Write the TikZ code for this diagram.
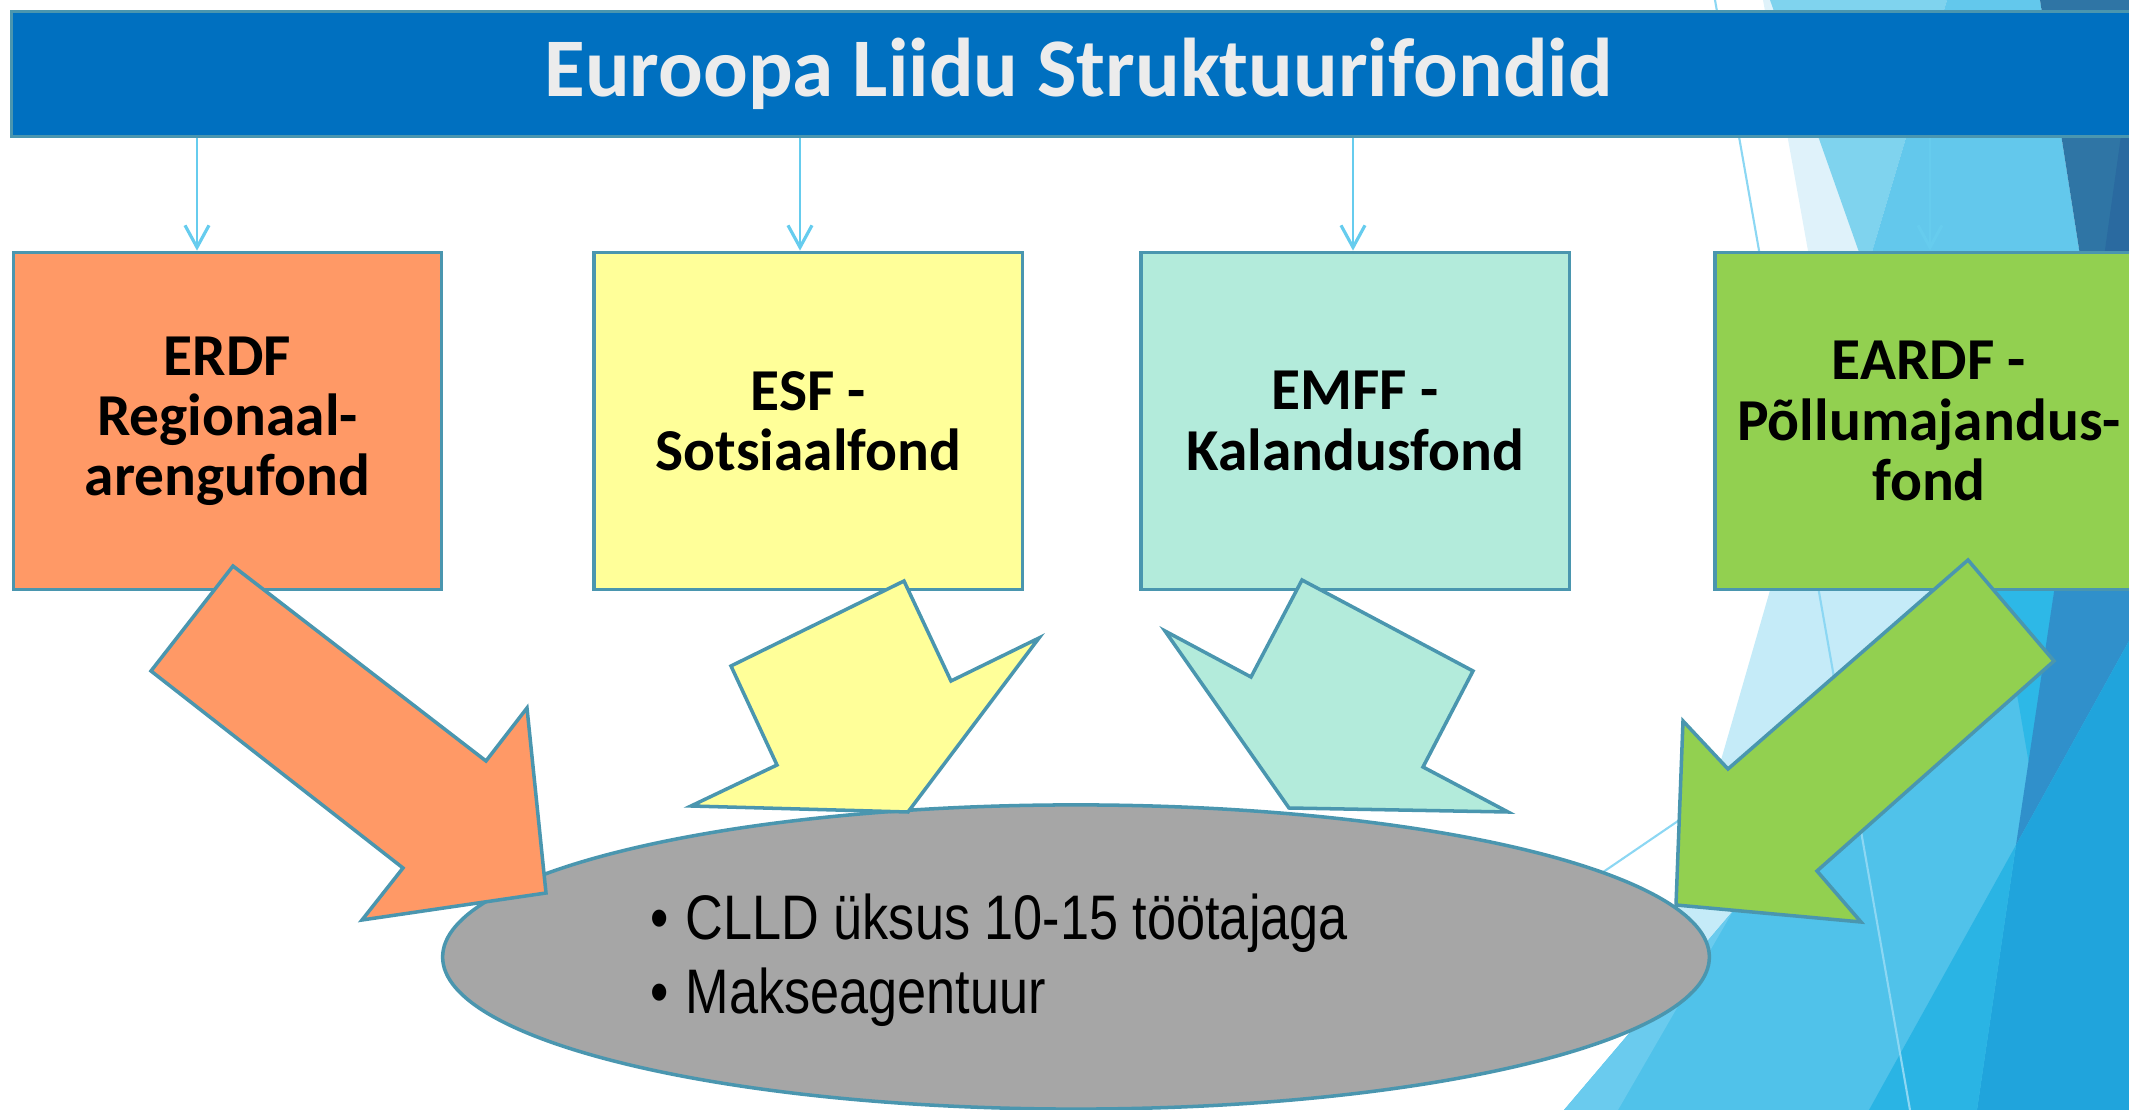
\documentclass[tikz,border=0pt]{standalone}
\usepackage{fontspec}
\setmainfont{Carlito}
\newfontfamily\narrowfont{Liberation Sans}[FakeStretch=0.83]
\usepackage{tikz}
\usetikzlibrary{shapes.geometric,arrows.meta}
\usetikzlibrary{positioning}
\definecolor{titleblue}{RGB}{0,112,192}
\definecolor{edgeblue}{RGB}{74,150,175}
\definecolor{linkblue}{RGB}{102,204,238}
\definecolor{titlegray}{RGB}{236,236,236}
\definecolor{myorange}{RGB}{255,153,102}
\definecolor{myyellow}{RGB}{255,255,153}
\definecolor{myteal}{RGB}{179,235,219}
\definecolor{mygreen}{RGB}{146,208,80}
\definecolor{mygray}{RGB}{166,166,166}
% facets of the slide background
\definecolor{facetA}{RGB}{223,242,250}
\definecolor{facetB}{RGB}{197,235,248}
\definecolor{facetC}{RGB}{127,211,238}
\definecolor{facetD}{RGB}{99,200,236}
\definecolor{facetE}{RGB}{47,117,165}
\definecolor{facetF}{RGB}{42,106,160}
\definecolor{facetG}{RGB}{80,194,234}
\definecolor{facetH}{RGB}{106,203,238}
\definecolor{facetI}{RGB}{48,144,203}
\definecolor{facetJ}{RGB}{32,164,220}
\definecolor{facetK}{RGB}{42,180,228}
\definecolor{facetL}{RGB}{45,184,231}
\definecolor{facetM}{RGB}{140,215,243}
\newcommand\poolitem[1]{\makebox[0.35cm][l]{•}#1}
\newcommand\fundbox[4][]{%
  \node[fundbox,#1,fill=#2] (#3) {#4}; 
}

\begin{document}
\begin{tikzpicture}[
x=0.01cm, y=-0.01cm,
fundbox/.style={
  rectangle,
  draw=edgeblue,
  line width=1pt,
  minimum width=4.28cm,
  minimum height=3.37cm,
  inner sep=0pt,
  align=center,
  font=\fontsize{16.9}{17.1}\selectfont\bfseries},
titlebar/.style={
  rectangle,
  draw=edgeblue,
  line width=1pt,
  fill=titleblue,
  text=titlegray,
  minimum width=21.33cm,
  minimum height=1.25cm,
  inner sep=0pt,
  font=\fontsize{23.7}{28}\selectfont\bfseries},
pool/.style={
  ellipse,
  draw=edgeblue,
  line width=1pt,
  fill=mygray,
  minimum width=12.66cm,
  minimum height=3.04cm,
  inner sep=0pt},
pooltext/.style={inner sep=0pt, font=\narrowfont\fontsize{17.9}{20.8}\selectfont},
bigarrow/.style={draw=edgeblue, line width=1pt},
link/.style={draw=linkblue, line width=0.8pt, -{Straight Barb[length=0.22cm,width=0.24cm,line width=0.9pt]}},
facetline/.style={draw=facetM, line width=0.6pt}
]
\useasboundingbox (0,0) rectangle (2129,1110);
% background
\fill[facetA] (1763,0) -- (1831,379) -- (2140,379) -- (2140,0) -- cycle;
\fill[facetB] (1831,379) -- (1620,1110) -- (2140,1110) -- (2140,379) -- cycle;
\fill[facetC] (1770,0) -- (1947,0) -- (1866,272) -- cycle;
\fill[facetD] (1947,0) -- (2040,0) -- (2087,300) -- (1876,300) -- (1866,272) -- cycle;
\fill[facetE] (2040,0) -- (2140,0) -- (2140,300) -- (2087,300) -- cycle;
\fill[facetF] (2140,0) -- (2140,300) -- (2098,300) -- cycle;
\fill[facetG] (1564,1110) -- (2010,585) -- (2140,585) -- (2140,1110) -- cycle;
\fill[facetH] (1564,1110) -- (1618,1110) -- (1733,911) -- cycle;
\fill[facetL] (1995,585) -- (2055,585) -- (2030,770) -- (2018,700) -- cycle;
\fill[facetI] (2055,585) -- (2140,585) -- (2140,621) -- (2016,845) -- cycle;
\fill[facetJ] (2016,845) -- (2140,621) -- (2140,1110) -- (1977,1110) -- cycle;
\fill[facetK] (1869,1110) -- (2016,845) -- (1977,1110) -- cycle;
\draw[facetline] (1715,0) -- (1910,1110);
\draw[facetline] (1590,881) -- (1700,806);

\node[titlebar] (title) at (1078.5,74) {Euroopa Liidu Struktuurifondid};

\fundbox[at={(227.5,421)}]{myorange}{erdf}{ERDF\\Regionaal-\\arengufond}
\fundbox[right=1.49cm of erdf]{myyellow}{esf}{ESF -\\Sotsiaalfond}
\fundbox[right=1.15cm of esf]{myteal}{emff}{EMFF -\\Kalandusfond}
\fundbox[right=1.42cm of emff]{mygreen}{eardf}{EARDF -\\Põllumajandus-\\fond}

\foreach \f/\x in {erdf/197,esf/800,emff/1353,eardf/1930}
  \draw[link] (title.south -| \x,0) -- (\f.north -| \x,0);

\node[pool] (fund) at (1076,957) {};

\draw[bigarrow, fill=myorange] (233,566) -- (486,761) -- (527,708) -- (546,893) -- (362,920) -- (403,868) -- (151,671) -- cycle;
\draw[bigarrow, fill=myyellow] (904,581) -- (951,681) -- (1039,638) -- (908,812) -- (691,806) -- (777,765) -- (731,666) -- cycle;
\draw[bigarrow, fill=myteal] (1302,580) -- (1473,671) -- (1423,767) -- (1508,812) -- (1289,808) -- (1165,631) -- (1251,677) -- cycle;
\draw[bigarrow, fill=mygreen] (1968,560) -- (2054,661) -- (1817,871) -- (1861,922) -- (1676,905) -- (1683,721) -- (1728,769) -- cycle;

\node[pooltext, anchor=base west] (clld) at (650,940) {\poolitem{CLLD üksus 10-15 töötajaga}};
\node[pooltext, anchor=base west] (makse) at ([yshift=-0.73cm]clld.base west) {\poolitem{Makseagentuur}};
\end{tikzpicture}
\end{document}
